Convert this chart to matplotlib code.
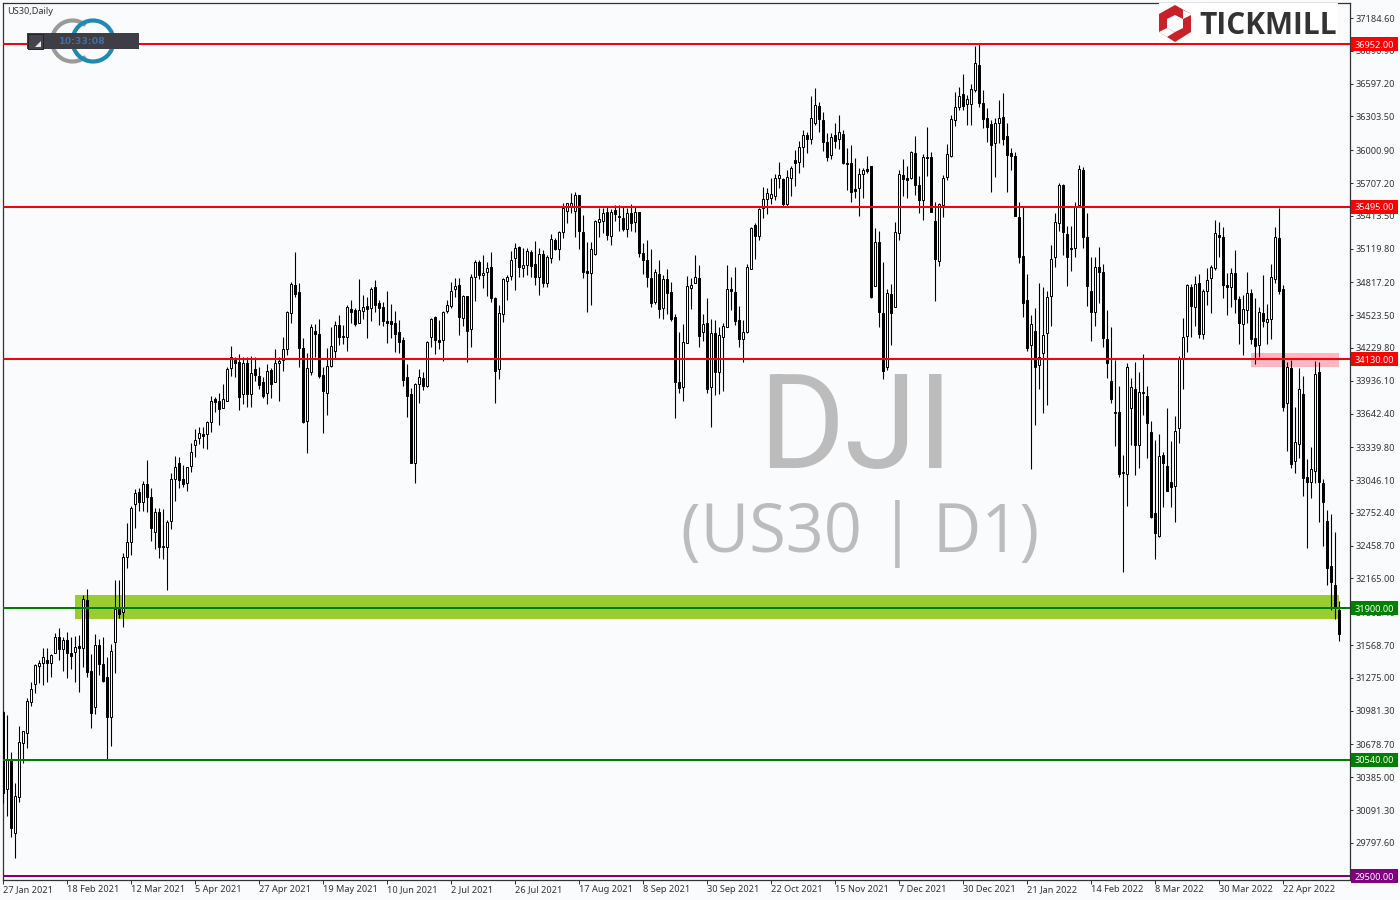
import matplotlib
matplotlib.use("Agg")
import matplotlib.pyplot as plt
from matplotlib.patches import Arc, Polygon, Rectangle
from matplotlib.transforms import Affine2D, ScaledTranslation

# daily bars, one row is 10 bars
opens = [
    30971,30276,30538,29882,30210,30694,30777,31061,31216,31383,
    31410,31434,31404,31494,31637,31533,31613,31494,31509,31560,
    31539,31972,31336,31010,31566,31395,31279,30927,31592,31888,
    31861,32360,32488,32829,32936,32853,33008,32897,32578,32763,
    32458,32444,32676,33053,33196,33053,33023,33172,33363,33420,
    33456,33456,33563,33769,33751,33689,33757,34047,34119,34101,
    33814,34095,33814,34038,33978,33924,33823,34029,33921,34098,
    34122,34217,34540,34790,34728,34226,33572,34017,34378,34354,
    33984,33829,34065,34199,34435,34337,34325,34575,34566,34450,
    34558,34602,34584,34773,34629,34596,34468,34468,34450,34369,
    34301,33966,33814,33196,33910,33957,33889,34325,34507,34298,
    34298,34558,34605,34755,34790,34495,34692,34396,34868,34996,
    34886,34907,34952,34677,34038,34531,34832,34877,35032,35134,
    34949,34973,35086,34982,34868,35072,34809,35033,35197,35113,
    35269,35460,35502,35460,35600,35266,34916,34898,35072,35361,
    35370,35445,35233,35463,35415,35391,35295,35436,35361,35445,
    35080,35018,34860,34642,34889,34591,34845,34731,34507,33925,
    33883,34271,34770,34815,34854,34376,34450,33883,34361,34017,
    34325,34421,34755,34734,34477,34307,34376,34940,35328,35236,
    35480,35561,35576,35594,35755,35743,35519,35749,35910,35899,
    36033,36134,36099,36242,36397,36269,36075,35955,36134,36099,
    36143,35884,35884,35654,35660,35791,35830,35857,34788,35176,
    34540,34056,34710,34600,35257,35779,35749,35749,35973,35690,
    35555,35943,35937,35367,35012,35510,35758,35949,36272,36391,
    36502,36412,36412,36541,36761,36421,36287,36236,36063,36248,
    36296,36128,35973,35949,35406,35054,34656,34256,34379,34077,
    34182,34361,34695,35048,35346,35687,35248,35128,35122,35507,
    35821,35221,34737,34555,34952,34907,34307,33937,33644,33653,
    33107,33098,33689,33859,33357,33835,33802,33480,32748,32548,
    33271,33175,33032,32993,33510,34137,34337,34773,34600,34809,
    34352,34737,34853,34943,35239,35221,34791,34779,34898,34668,
    34441,34570,34719,34319,34253,34540,34459,34486,34844,35212,
    34755,33734,34047,33214,33366,33814,33077,33026,33128,34011,
    33017,32683,32279,32103,31882,
]
highs = [
    30980,30942,30613,30329,30843,30801,31091,31240,31398,31434,
    31539,31539,31485,31673,31718,31637,31682,31637,31649,31658,
    32017,32067,31485,31664,31622,31637,31458,31578,32151,32151,
    32390,32658,32817,32963,32972,33041,33226,32972,32799,32799,
    32784,32688,33106,33262,33250,33181,33166,33375,33500,33524,
    33524,33578,33799,33793,33823,33907,34062,34247,34151,34175,
    34151,34145,34157,34145,34062,33972,34086,34047,34220,34151,
    34325,34561,34817,35089,34808,34316,34181,34444,34444,34486,
    34062,34226,34414,34471,34525,34435,34614,34656,34584,34847,
    34704,34689,34773,34838,34659,34644,34740,34623,34561,34480,
    34325,34086,33868,33918,34038,34017,34289,34495,34516,34480,
    34561,34659,34817,34856,34853,34704,34698,34892,35017,35017,
    35062,35002,35089,34689,34614,34853,34886,35098,35173,35143,
    35122,35122,35107,35188,35122,35107,35063,35248,35212,35278,
    35525,35525,35615,35630,35600,35421,35182,35182,35376,35481,
    35487,35490,35472,35510,35510,35502,35481,35516,35496,35445,
    35173,35197,35113,34934,35018,34883,34934,34824,34534,34370,
    34441,34874,34854,35063,34973,34534,34680,34486,34480,34421,
    34450,34973,34863,34952,34606,34480,34982,35316,35346,35481,
    35669,35660,35755,35788,35896,35749,35824,35863,36003,36087,
    36182,36167,36487,36555,36430,36340,36158,36152,36242,36317,
    36182,36018,36048,35928,35839,35839,35949,35860,35301,35277,
    34997,34755,34803,35361,35824,35919,35863,35997,36128,35773,
    35967,36206,35988,35540,35525,35779,36057,36317,36526,36564,
    36684,36496,36591,36935,36952,36541,36376,36272,36287,36451,
    36511,36242,36018,35988,35540,35489,34889,34525,34585,34809,
    34779,34740,35152,35436,35704,35699,35325,35322,35540,35869,
    35854,35436,35048,35048,35137,34979,34570,34414,34122,33889,
    33271,34092,33958,34101,34011,34176,33889,33575,33405,33456,
    33295,33689,33396,33620,34158,34501,34800,34800,34874,34889,
    34755,34943,34973,35376,35355,35310,34898,34943,35107,34698,
    34704,34913,34755,34674,34594,34883,34623,34982,35310,35486,
    34794,34101,34122,33704,34047,33978,33235,33339,34113,34101,
    33053,32778,32742,32578,31963,
]
lows = [
    30150,30037,29852,29658,30165,30515,30643,31025,31142,31225,
    31210,31240,31285,31494,31434,31339,31276,31357,31240,31151,
    31375,31285,30828,30951,31300,31240,30544,30667,31315,31813,
    31733,32261,32375,32620,32772,32772,32763,32503,32426,32351,
    32339,32061,32608,32862,32978,32987,32951,33121,33256,33370,
    33336,33327,33480,33659,33539,33689,33751,33978,33972,33674,
    33727,33704,33704,33936,33862,33784,33727,33778,33921,33757,
    34026,34166,34456,34689,34062,33554,33285,33987,34151,33963,
    33465,33629,34062,34128,34256,34265,34202,34450,34429,34450,
    34489,34322,34474,34555,34438,34429,34274,34316,34196,34187,
    33889,33614,33202,33023,33739,33853,33883,34241,34175,34220,
    34116,34540,34584,34689,34346,34426,34107,34241,34653,34850,
    34770,34698,34638,33733,33954,34465,34659,34838,34749,34862,
    34862,34883,34863,34794,34704,34773,34773,34988,35107,35018,
    35212,35346,35436,35227,35113,34854,34555,34615,35063,35227,
    35257,35197,35152,35370,35281,35281,35227,35281,35272,35048,
    34892,34779,34600,34621,34495,34486,34534,34471,33605,33829,
    33758,34271,34582,34815,34241,34295,33823,33519,33808,33814,
    33847,34421,34570,34436,34241,34107,34367,34934,35027,35197,
    35391,35430,35519,35555,35660,35504,35504,35594,35681,35794,
    35854,35973,36057,36227,36167,35997,35907,35922,36024,36012,
    35878,35645,35540,35576,35415,35576,35800,34680,34788,34420,
    33949,34032,34256,34594,35197,35594,35576,35743,35600,35436,
    35376,35770,35451,34653,34967,35400,35734,35943,36218,36361,
    36361,36227,36227,36520,36391,36197,36078,35630,35764,36063,
    36048,35630,35824,35412,34988,34510,34205,33142,33540,33859,
    33644,33719,34426,34952,35277,35062,34788,34922,35048,35495,
    35122,34609,34295,34429,34635,34241,33964,33734,33354,33077,
    32226,32817,33360,33092,33151,33629,33247,32709,32336,32539,
    32808,32951,32808,32674,33381,33859,34196,34331,34429,34316,
    34310,34615,34540,34928,35047,34680,34525,34600,34540,34265,
    34167,34456,34265,34086,34146,34420,34265,34310,34809,34713,
    33668,33310,33151,33107,33241,32906,32441,32889,33023,32674,
    32459,32109,31882,31799,31608,
]
closes = [
    30246,30538,29926,30216,30703,30801,31070,31171,31386,31404,
    31458,31404,31479,31643,31533,31613,31494,31473,31554,31545,
    31978,31324,30956,31566,31395,31249,30927,31518,31888,31846,
    32360,32488,32793,32927,32853,33008,32897,32620,32763,32444,
    32446,32667,33059,33166,33047,33011,33160,33300,33405,33470,
    33441,33563,33751,33748,33680,33769,34038,34151,34098,33793,
    34092,33817,34002,33990,33901,33802,34020,33910,34092,34113,
    34217,34549,34799,34716,34226,33569,34047,34414,34357,33981,
    33847,34068,34244,34435,34331,34328,34593,34555,34447,34566,
    34593,34581,34758,34617,34590,34474,34456,34441,34357,34286,
    33942,33802,33202,33910,33966,33892,34280,34486,34304,34286,
    34549,34611,34743,34787,34504,34692,34384,34862,34999,34883,
    34904,34949,34674,34026,34540,34844,34868,35014,35128,34958,
    34970,35095,34964,34868,35072,34815,35042,35203,35113,35269,
    35481,35525,35525,35600,35281,34907,34904,35113,35370,35382,
    35436,35242,35445,35430,35403,35295,35436,35352,35445,35083,
    35018,34868,34636,34907,34582,34848,34725,34489,33928,33871,
    34280,34782,34797,34863,34340,34441,33862,34361,34017,34346,
    34424,34755,34743,34474,34313,34376,34952,35301,35236,35472,
    35561,35615,35606,35749,35776,35519,35764,35839,35890,36027,
    36134,36099,36287,36403,36278,36078,35943,36117,36087,36161,
    35887,35875,35630,35639,35791,35821,35818,34689,35176,34555,
    34026,34719,34546,35265,35785,35740,35737,35982,35687,35555,
    35943,35931,35451,35024,35516,35749,35964,36281,36385,36484,
    36400,36457,36546,36779,36427,36278,36212,36051,36242,36287,
    36105,35961,35952,35412,35048,34635,34232,34441,34056,34152,
    34343,34689,35024,35361,35687,35271,35048,35116,35501,35830,
    35227,34788,34555,34958,34913,34316,34092,33769,33659,33098,
    33122,34062,33883,33360,33832,33823,33554,32718,32569,33265,
    33196,32951,32981,33489,34137,34325,34797,34609,34806,34352,
    34737,34841,34952,35262,35227,34791,34779,34898,34671,34450,
    34576,34719,34313,34250,34549,34474,34486,34862,35221,34743,
    33698,34062,33187,33390,33859,33062,33032,33142,33996,33026,
    32853,32256,32130,31906,31664,
]

date_labels = ["27 Jan 2021", "18 Feb 2021", "12 Mar 2021", "5 Apr 2021", "27 Apr 2021",
               "19 May 2021", "10 Jun 2021", "2 Jul 2021", "26 Jul 2021", "17 Aug 2021",
               "8 Sep 2021", "30 Sep 2021", "22 Oct 2021", "15 Nov 2021", "7 Dec 2021",
               "30 Dec 2021", "21 Jan 2022", "14 Feb 2022", "8 Mar 2022", "30 Mar 2022",
               "22 Apr 2022"]
price_ticks = [37184.60, 36890.90, 36597.20, 36303.50, 36000.90, 35707.20, 35413.50,
               35119.80, 34817.20, 34523.50, 34229.80, 33936.10, 33642.40, 33339.80,
               33046.10, 32752.40, 32458.70, 32165.00, 31862.40, 31568.70, 31275.00,
               30981.30, 30678.70, 30385.00, 30091.30, 29797.60]
level_prices = [36952.00, 35495.00, 34130.00, 31900.00, 30540.00, 29500.00]
level_colors = ["#ff0000", "#ff0000", "#ff0000", "#008000", "#008000", "#800080"]

BG = "#fafbfd"
plt.rcParams["font.family"] = ["Noto Sans", "DejaVu Sans"]

fig = plt.figure(figsize=(14, 9), dpi=100, facecolor=BG)
# pixel box of the MT4 chart window
ax = fig.add_axes([2.5 / 1400, 1 - 879.5 / 900, 1347.5 / 1400, 877 / 900], facecolor=BG)
ax.set_xlim(-0.125, 336.75)
ax.set_ylim(29469, 37324)

bars = list(range(len(opens)))
px = Affine2D().scale(1 / 1400, -1 / 900).translate(0, 1) + fig.transFigure

# zones
ax.add_patch(Rectangle((18, 31802), 316, 215, fc="#9acd32", ec="none", zorder=1.5))
ax.add_patch(Rectangle((312, 34059), 22, 125, fc="#ffb6c1", ec="none", zorder=1.5))

# watermark
ax.text(856, 468, "DJI", transform=px, fontsize=95, color="#bcbcbc", ha="center",
        va="baseline", family="Roboto", zorder=1)
ax.text(860, 552, "(US30 | D1)", transform=px, fontsize=48, color="#bcbcbc", ha="center",
        va="baseline", family="Open Sans", zorder=1)

# candles
ax.vlines(bars, lows, highs, color="black", lw=0.8, zorder=3)
body_bottom = [min(o, c) for o, c in zip(opens, closes)]
body_height = [abs(o - c) for o, c in zip(opens, closes)]
body_color = ["white" if c >= o else "black" for o, c in zip(opens, closes)]
ax.bar(bars, body_height, bottom=body_bottom, width=0.5, color=body_color,
       edgecolor="black", linewidth=0.72, zorder=3.2)

# horizontal levels
for price, col in zip(level_prices, level_colors):
    ax.axhline(price, color=col, lw=1.44, zorder=4)

# axes furniture
for spine in ax.spines.values():
    spine.set_color("#333333")
    spine.set_linewidth(0.9)
ax.set_xticks(bars[::16])
ax.set_xticklabels(date_labels, ha="left", fontsize=6.6, color="#333333")
nudge = ScaledTranslation(-1 / 72, 0, fig.dpi_scale_trans)
for lab in ax.get_xticklabels():
    lab.set_transform(lab.get_transform() + nudge)
ax.set_yticks(price_ticks)
ax.set_yticklabels([f"{p:.2f}" for p in price_ticks], fontsize=6.6, color="#333333")
ax.tick_params(axis="x", length=3, width=0.72, color="#333333", pad=1)
ax.tick_params(axis="y", length=2.5, width=0.72, color="#333333", pad=1.5,
               left=False, labelleft=False, right=True, labelright=True)

# price tags on the scale
tag_trans = ax.get_yaxis_transform()
for price, col in zip(level_prices, level_colors):
    ax.add_patch(Rectangle((1.0008, price - 62), 0.0345, 124, fc=col, ec="none",
                           transform=tag_trans, clip_on=False, zorder=6))
    ax.text(1.0037, price, f"{price:.2f}", transform=tag_trans, color="white",
            fontsize=6.6, va="center_baseline", ha="left", clip_on=False, zorder=7)

# title of the chart window
ax.text(7, 13.5, "US30,Daily", transform=px, fontsize=6.6, color="#333333", zorder=8)

# clock widget
ax.add_patch(Arc((72.5, 41), 41, 41, theta1=50, theta2=310, ec="#9a9a9a", lw=3.0,
                 transform=px, clip_on=False, zorder=6))
ax.add_patch(Arc((93, 41), 41, 41, ec="#1c8ab5", lw=3.0, transform=px, clip_on=False, zorder=6.1))
ax.add_patch(Rectangle((27, 33), 112, 16, fc="#3f3d45", ec="none", transform=px, zorder=6.2))
ax.add_patch(Rectangle((27.5, 33.5), 15, 15, fc="#45434c", ec="#25242a", lw=0.7, transform=px, zorder=6.3))
ax.add_patch(Polygon([(35, 47), (41, 47), (41, 41)], fc="#e8e8e8", ec="none", transform=px, zorder=6.4))
ax.text(82, 41, "10:33:08", transform=px, fontsize=6.8, fontweight="bold", color="#3f6fa5",
        ha="center", va="center", family="DejaVu Sans", zorder=6.5)

# tickmill logo
ax.add_patch(Rectangle((1159, 3), 179, 39.5, fc="white", ec="none", transform=px, zorder=4.5))
ax.add_patch(Polygon([(1175, 5), (1191, 14), (1191, 32), (1175, 42), (1159, 32), (1159, 14)],
                     fc="#c9202a", ec="none", transform=px, zorder=6))
ax.add_patch(Polygon([(1175, 15), (1183, 19), (1183, 28), (1175, 32), (1167, 28), (1167, 19)],
                     fc="white", ec="none", transform=px, zorder=6.1))
ax.add_patch(Polygon([(1183, 10), (1191, 14), (1191, 15), (1183, 19)], fc="white", ec="none",
                     transform=px, zorder=6.2))
ax.add_patch(Polygon([(1167, 28), (1175, 32), (1167, 37), (1159, 32)], fc="white", ec="none",
                     transform=px, zorder=6.2))
ax.text(1199, 33.5, "TICKMILL", transform=px, fontsize=21.5, fontweight="bold", color="#333333",
        family="Open Sans", zorder=6)

fig.savefig("out.png", dpi=100, facecolor=BG)
